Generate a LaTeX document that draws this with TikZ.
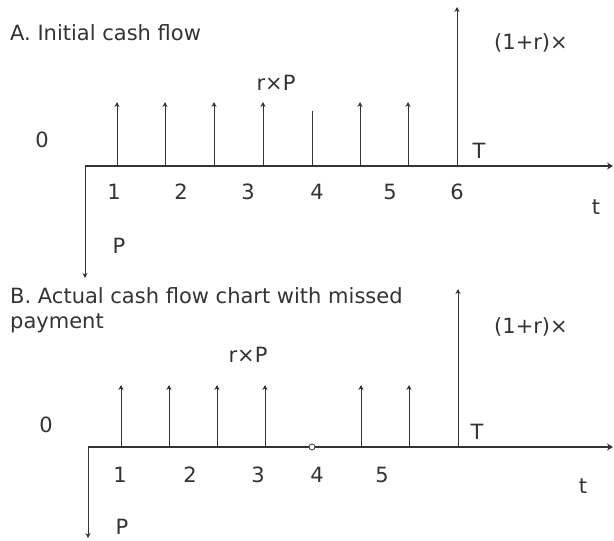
\documentclass[tikz,border=0pt]{standalone}
\usepackage{fontspec}
\setmainfont{DejaVu Sans}
\usetikzlibrary{arrows.meta}
\definecolor{inkgray}{HTML}{333333}
\begin{document}
\begin{tikzpicture}[
    x=1pt,y=-1pt,
    lbl/.style={font=\fontsize{21}{25}\selectfont,text=inkgray,inner sep=0pt},
    axis/.style={line width=1.8pt,inkgray,-{Stealth[length=6pt,width=7pt]}},
    flow/.style={line width=0.9pt,inkgray,-{Stealth[length=5pt,width=5pt]}},
    bare/.style={line width=0.9pt,inkgray},
    missed/.style={draw=inkgray,fill=white,line width=0.8pt,circle,inner sep=0pt,minimum size=6pt}
  ]
    \useasboundingbox (0,0) rectangle (614,541);

    % A. INITIAL CASH FLOW
    \node[lbl,anchor=west] (titleA) at (10,33) {A. Initial cash flow};
    \coordinate (a0) at (85,166);
    \coordinate (aend) at (613,166);
    \coordinate (adown) at (85,278);
    \draw[axis] (a0) -- (aend);
    \draw[flow] (a0) -- (adown);
    \foreach \i/\x in {1/117,2/165,3/214,4/263,6/360,7/408} {
      \coordinate (a\i) at (\x,166);
      \coordinate (a\i top) at (\x,102);
      \draw[flow] (a\i) -- (a\i top);
    }
    \coordinate (a5) at (312,166);
    \coordinate (a5top) at (312,111);
    \draw[bare] (a5) -- (a5top);
    \coordinate (aT) at (457,166);
    \coordinate (aTtop) at (457,7);
    \draw[flow] (aT) -- (aTtop);

    \node[lbl] (rpA) at (276,83) {r×P};
    \node[lbl] (zeroA) at (42,140) {0};
    \foreach \n/\x in {1/114,2/181,3/248,4/317,5/390,6/457}
      \node[lbl] (numA\n) at (\x,192) {\n};
    \node[lbl] (bigTA) at (479,151) {T};
    \node[lbl] (timeA) at (596,207) {t};
    \node[lbl] (multA) at (531,43) {(1+r)×};
    \node[lbl] (princA) at (119,246) {P};

    % B. ACTUAL CASH FLOW WITH MISSED PAYMENT
    \node[lbl,anchor=west,align=left] (titleB) at (10,310) {B. Actual cash flow chart with missed\\payment};
    \coordinate (b0) at (88,447);
    \coordinate (bend) at (613,447);
    \coordinate (bdown) at (88,538);
    \draw[axis] (b0) -- (bend);
    \draw[flow] (b0) -- (bdown);
    \foreach \i/\x in {1/121,2/169,3/217,4/265,6/361,7/409} {
      \coordinate (b\i) at (\x,447);
      \coordinate (b\i top) at (\x,385);
      \draw[flow] (b\i) -- (b\i top);
    }
    \node[missed] (skip) at (312,447) {};
    \coordinate (bT) at (458,447);
    \coordinate (bTtop) at (458,289);
    \draw[flow] (bT) -- (bTtop);

    \node[lbl] (rpB) at (248,355) {r×P};
    \node[lbl] (zeroB) at (46,425) {0};
    \foreach \n/\x in {1/120,2/190,3/258,4/317,5/382}
      \node[lbl] (numB\n) at (\x,475) {\n};
    \node[lbl] (bigTB) at (477,432) {T};
    \node[lbl] (timeB) at (583,486) {t};
    \node[lbl] (multB) at (531,327) {(1+r)×};
    \node[lbl] (princB) at (122,527) {P};
\end{tikzpicture}
\end{document}
